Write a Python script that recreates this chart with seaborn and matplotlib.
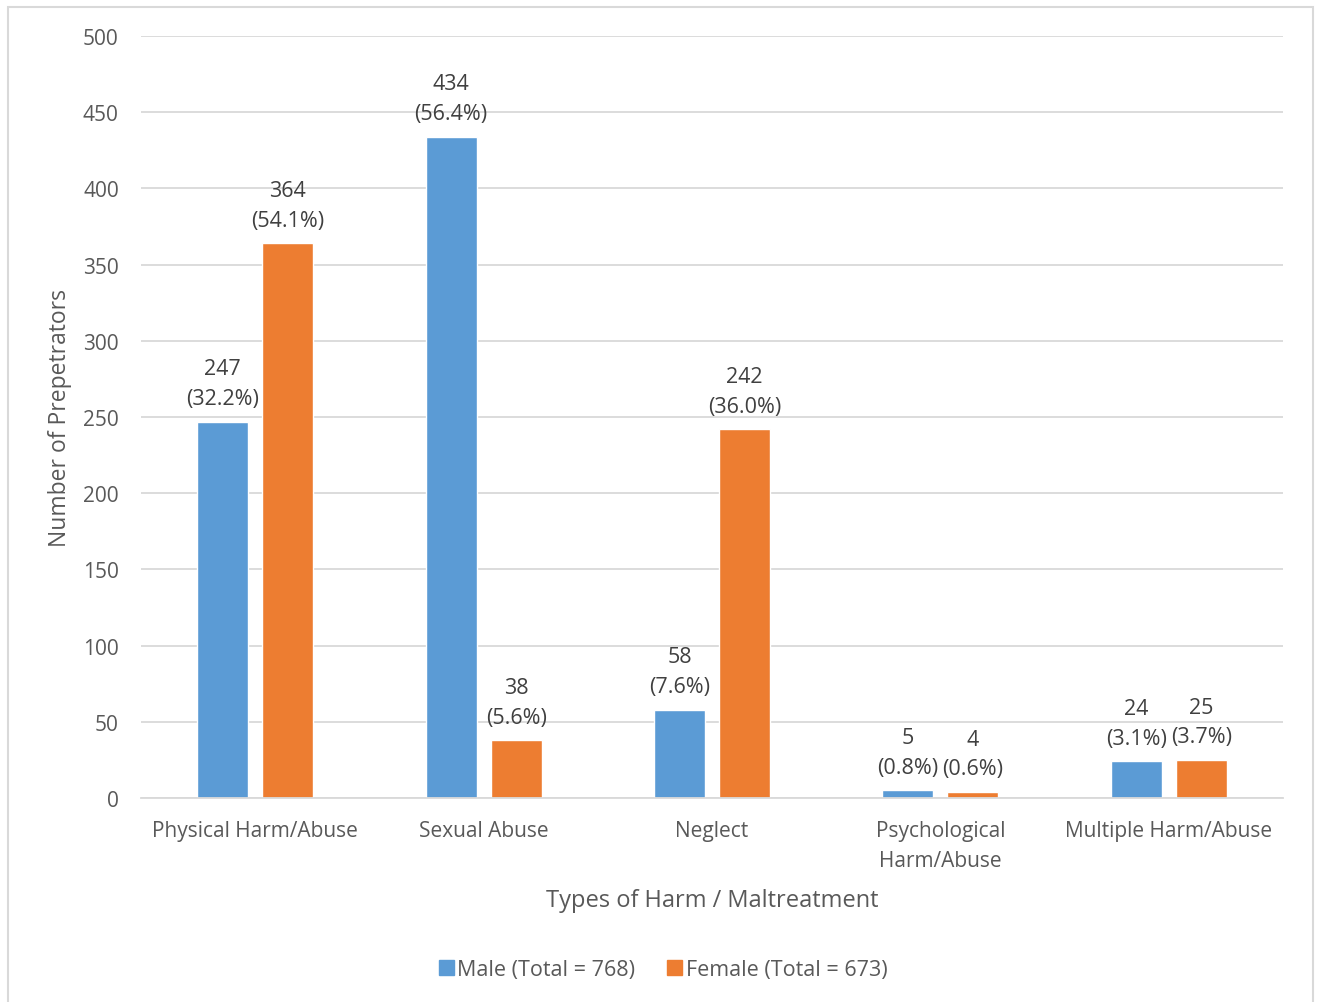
import matplotlib
matplotlib.use("Agg")
import matplotlib.pyplot as plt
import matplotlib.patches as mpatches
import seaborn as sns
import pandas as pd

# Counts of perpetrators by harm type and gender
categories = ["Physical Harm/Abuse", "Sexual Abuse", "Neglect",
              "Psychological\nHarm/Abuse", "Multiple Harm/Abuse"]
male_counts = [247, 434, 58, 5, 24]
female_counts = [364, 38, 242, 4, 25]
male_pct = ["32.2%", "56.4%", "7.6%", "0.8%", "3.1%"]
female_pct = ["54.1%", "5.6%", "36.0%", "0.6%", "3.7%"]
series_names = ["Male (Total = 768)", "Female (Total = 673)"]
y_ticks = [0, 50, 100, 150, 200, 250, 300, 350, 400, 450, 500]

colors = ["#5B9BD5", "#ED7D31"]

df = pd.DataFrame({
    "category": categories * 2,
    "count": male_counts + female_counts,
    "pct": male_pct + female_pct,
    "gender": [series_names[0]] * len(categories) + [series_names[1]] * len(categories),
})

sns.set_theme(style="white")
plt.rcParams["font.family"] = ["Open Sans", "DejaVu Sans"]

fig = plt.figure(figsize=(13.18, 10.03), dpi=100)
ax = fig.add_axes([0.107, 0.2034, 0.8664, 0.7597])

sns.barplot(data=df, x="category", y="count", hue="gender", order=categories,
            hue_order=series_names, palette=colors, width=0.57, gap=0.215,
            saturation=1, ax=ax, legend=True)

# value labels above each bar
for container, pcts in zip(ax.containers, [male_pct, female_pct]):
    for bar, pct in zip(container, pcts):
        h = bar.get_height()
        ax.annotate(f"{int(h)}\n({pct})", (bar.get_x() + bar.get_width() / 2, h),
                    xytext=(0, 9), textcoords="offset points",
                    ha="center", va="bottom", fontsize=15.5, color="#404040",
                    linespacing=1.55)

ax.set_ylim(0, 500)
ax.set_xlim(-0.5, len(categories) - 0.5)
ax.set_yticks(y_ticks)
ax.yaxis.grid(True, color="#d9d9d9", linewidth=1.3)
ax.set_axisbelow(True)
for side in ["top", "right", "left"]:
    ax.spines[side].set_visible(False)
ax.spines["bottom"].set_color("#d9d9d9")
ax.spines["bottom"].set_linewidth(1.3)
ax.tick_params(axis="both", length=0, labelsize=15, colors="#595959")
ax.tick_params(axis="x", pad=16)
ax.tick_params(axis="y", pad=16)
for lbl in ax.get_xticklabels():
    lbl.set_linespacing(1.55)

ax.set_xlabel("Types of Harm / Maltreatment", fontsize=17, color="#595959", labelpad=12)
ax.set_ylabel("Number of Prepetrators", fontsize=16.5, color="#595959", labelpad=8)

handles = [mpatches.Patch(color=c, label=n) for c, n in zip(colors, series_names)]
ax.get_legend().remove()
fig.legend(handles=handles, loc="center", bbox_to_anchor=(0.503, 0.032), ncol=2,
           frameon=False, fontsize=15.5, handlelength=0.7, handleheight=0.7,
           handletextpad=0.15, columnspacing=1.5, labelcolor="#595959")

# light frame around the whole chart
fig.patches.append(mpatches.Rectangle((8 / 1318, -0.01), 1305 / 1318, 1 - 8 / 1003 + 0.01,
                                      transform=fig.transFigure, fill=False,
                                      edgecolor="#d9d9d9", linewidth=1.5))

fig.savefig("out.png", dpi=100)
